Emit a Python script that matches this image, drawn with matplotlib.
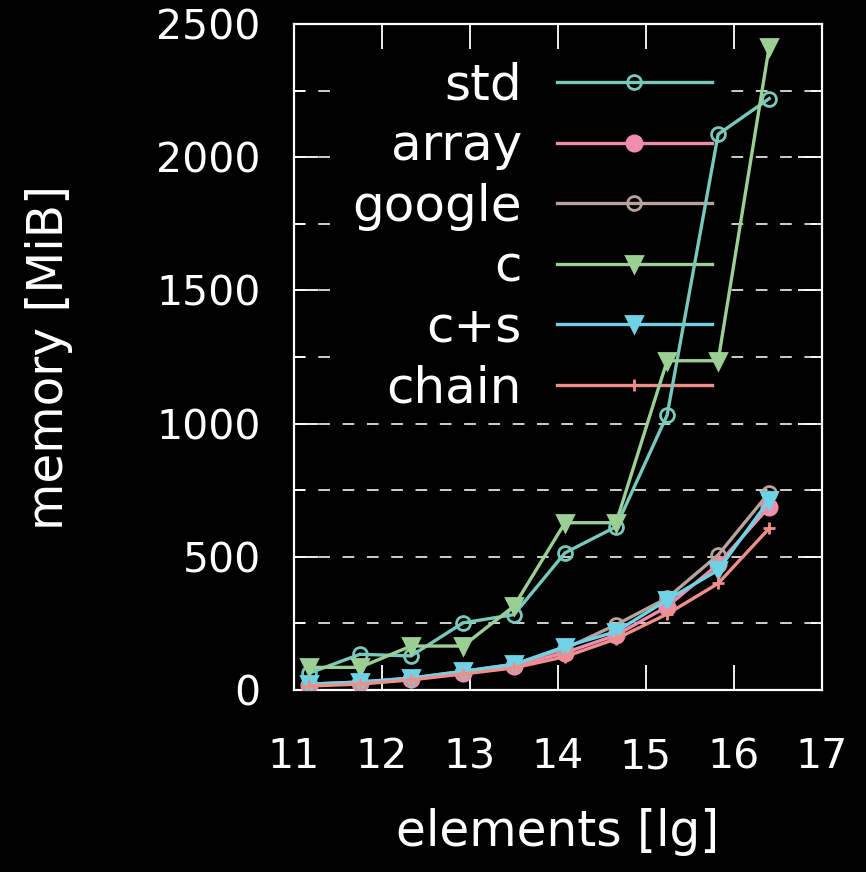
import matplotlib
matplotlib.use("Agg")
import matplotlib.pyplot as plt
from matplotlib.ticker import MultipleLocator

plt.rcParams['font.family'] = ['DejaVu Sans']

# x positions (elements, lg)
x = [11.17, 11.75, 12.33, 12.92, 13.50, 14.08, 14.66, 15.24, 15.82, 16.40]

std    = [63, 134, 128, 252, 283, 515, 613, 1032, 2086, 2220]
array  = [20, 28, 42, 65, 90, 140, 206, 313, 472, 688]
google = [22, 30, 44, 70, 97, 155, 245, 345, 507, 741]
c      = [85, 85, 165, 165, 315, 628, 628, 1236, 1236, 2415]
cs     = [22, 30, 45, 70, 96, 163, 219, 338, 450, 713]
chain  = [15, 22, 38, 60, 83, 125, 192, 285, 400, 607]

names = ["std", "array", "google", "c", "c+s", "chain"]
series = [std, array, google, c, cs, chain]
colors = ["#78c8bc", "#f08cac", "#b8a29c", "#9ccf94", "#70d2e6", "#f08e8a"]
markers = ["o", "o", "o", "v", "v", "+"]
filled = [False, True, False, True, True, True]
msizes = [10, 11, 10, 11, 11, 9]

xticks = [11, 12, 13, 14, 15, 16, 17]
yticks = [0, 500, 1000, 1500, 2000, 2500]

fig = plt.figure(figsize=(8.66, 8.72), dpi=100, facecolor="black")
ax = fig.add_axes([294/866, 1-690/872, 528/866, 666/872])
ax.set_facecolor("black")

for name, ys, col, mk, fl, ms in zip(names, series, colors, markers, filled, msizes):
    ax.plot(x, ys, color=col, lw=2.4, marker=mk, markersize=ms,
            markerfacecolor=(col if fl else "none"), markeredgecolor=col,
            markeredgewidth=2.0, label=name, zorder=3)

ax.set_xlim(11, 17)
ax.set_ylim(0, 2500)
ax.set_xticks(xticks)
ax.set_yticks(yticks)
ax.yaxis.set_minor_locator(MultipleLocator(250))

for sp in ax.spines.values():
    sp.set_color("white")
    sp.set_linewidth(1.6)

ax.tick_params(axis="x", which="major", direction="in", length=18, width=1.3,
               colors="white", top=True, bottom=True, labelsize=29.5, pad=34)
ax.tick_params(axis="y", which="major", direction="in", length=17, width=1.3,
               colors="white", left=True, right=True, labelsize=29.5, pad=24)
ax.tick_params(axis="y", which="minor", direction="in", length=8, width=1.3,
               colors="white", left=True, right=True)

ax.set_axisbelow(True)
ax.grid(True, axis="y", which="both", color="#d0d0d0", lw=1.4,
        linestyle=(0, (6.0, 6.5)), zorder=0.5)

ax.set_xlabel("elements [lg]", color="white", fontsize=35)
ax.set_ylabel("memory [MiB]", color="white", fontsize=35)
ax.xaxis.set_label_coords(0.5, -0.177)
ax.yaxis.set_label_coords(-0.419, 0.5)

leg = ax.legend(loc="upper right", bbox_to_anchor=(0.8106, 0.958), markerfirst=False,
                fontsize=36, frameon=True, facecolor="black", edgecolor="none",
                framealpha=1.0, handlelength=3.1, handletextpad=0.7,
                labelspacing=0.25, borderpad=0.2, borderaxespad=0.0)
leg.set_zorder(1)
for t in leg.get_texts():
    t.set_color("white")

fig.savefig("out.png", dpi=100, facecolor="black")
